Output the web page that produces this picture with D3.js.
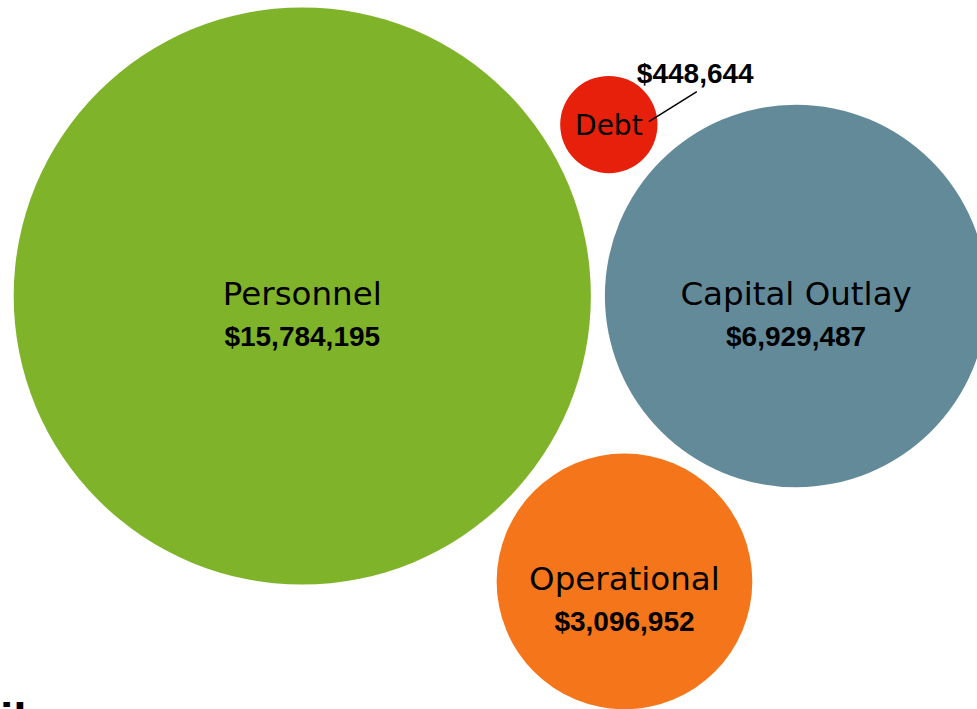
<!DOCTYPE html>
<html>
<head>
<meta charset="utf-8">
<script src="https://cdn.jsdelivr.net/npm/d3@7"></script>
<style>
  html, body { margin: 0; padding: 0; background: #ffffff; overflow: hidden; }
  svg { display: block; }
</style>
</head>
<body>
<svg id="chart" width="977" height="709"></svg>
<script>
// ---- data ----
const categories = ["Personnel", "Capital Outlay", "Operational", "Debt"];
const values = [15784195, 6929487, 3096952, 448644];
const colors = ["#7fb32a", "#628a99", "#f5761a", "#e6200a"];
const footerText = "il";

// ---- layout ----
const W = 977, H = 709;
const svg = d3.select("#chart");
const pad = 7;
const rScale = d3.scaleSqrt().domain([0, d3.max(values)]).range([0, 288.6]);
const fmt = d3.format("$,");

const nodes = categories.map((c, i) => ({
  name: c, value: values[i], color: colors[i],
  rr: rScale(values[i]), r: rScale(values[i]) + pad
}));
d3.packSiblings(nodes);
const origin = { x: 500.5, y: 296 };
nodes.forEach(d => { d.cx = d.x + origin.x; d.cy = d.y + origin.y; });

const g = svg.append("g");
g.selectAll("circle").data(nodes).join("circle")
  .attr("cx", d => d.cx).attr("cy", d => d.cy)
  .attr("r", d => d.rr).attr("fill", d => d.color);

const big = nodes.filter(d => d.rr > 80);
const small = nodes.filter(d => d.rr <= 80);

g.selectAll("text.lab").data(big).join("text").attr("class", "lab")
  .attr("x", d => d.cx).attr("y", d => d.cy + 9)
  .attr("text-anchor", "middle")
  .attr("font-family", "DejaVu Sans")
  .attr("font-size", 32.5).attr("fill", "#000")
  .text(d => d.name);

g.selectAll("text.val").data(big).join("text").attr("class", "val")
  .attr("x", d => d.cx).attr("y", d => d.cy + 50)
  .attr("text-anchor", "middle")
  .attr("font-family", "Liberation Sans, Arial, sans-serif")
  .attr("font-weight", "bold")
  .attr("font-size", 28).attr("fill", "#000")
  .text(d => fmt(d.value));

// small bubble: label inside, value outside with leader line
small.forEach(d => {
  g.append("text")
    .attr("x", d.cx).attr("y", d.cy + 10)
    .attr("text-anchor", "middle")
    .attr("font-family", "DejaVu Sans")
    .attr("font-size", 28).attr("fill", "#000")
    .text(d.name);
  g.append("line")
    .attr("x1", d.cx + 40).attr("y1", d.cy - 3)
    .attr("x2", d.cx + 88).attr("y2", d.cy - 33)
    .attr("stroke", "#000").attr("stroke-width", 1.5);
  g.append("text")
    .attr("x", d.cx + 28).attr("y", d.cy - 42)
    .attr("text-anchor", "start")
    .attr("font-family", "Liberation Sans, Arial, sans-serif")
    .attr("font-weight", "bold")
    .attr("font-size", 28).attr("fill", "#000")
    .text(fmt(d.value));
});

// clipped footer text at the bottom edge (only its top shows, as in the reference)
svg.append("text")
  .attr("x", 0).attr("y", H + 28)
  .attr("font-family", "Liberation Sans, Arial, sans-serif")
  .attr("font-weight", "bold")
  .attr("font-size", 48).attr("fill", "#000")
  .text(footerText);
</script>
</body>
</html>
